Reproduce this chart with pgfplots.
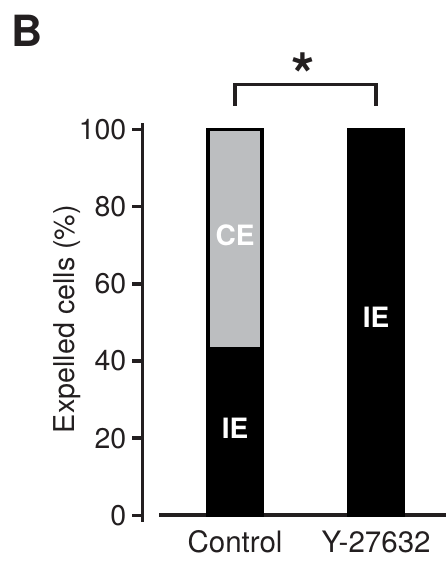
\documentclass[border=0pt]{standalone}
\usepackage{fontspec}
\setmainfont{TeX Gyre Heros}
\usepackage{pgfplots}
\pgfplotsset{compat=1.18}
\definecolor{txt}{HTML}{231F20}
\definecolor{ceg}{HTML}{BCBEC0}
\begin{document}
\begin{tikzpicture}[x=1pt,y=1pt]
\useasboundingbox (0,0) rectangle (446,567);
\begin{axis}[
  at={(142.5pt,45.3pt)}, anchor=south west,
  scale only axis, width=303.5pt, height=398.4pt,
  xmin=-0.656, xmax=1.496, ymin=-1.66, ymax=101.6,
  axis y line*=left, axis x line*=bottom,
  x axis line style={draw=none},
  y axis line style={line width=3.6pt, color=txt, -},
  ytick={0,20,...,100},
  xtick={0,1}, xticklabels={Control,Y-27632},
  xtick style={draw=none},
  ytick style={line width=3.5pt, color=txt},
  tick align=outside, major tick length=10pt,
  ticklabel style={font=\fontsize{28.5}{30}\selectfont, text=txt},
  /pgf/number format/assume math mode=true,
  yticklabel style={anchor=east, inner sep=0pt, xshift=-6pt},
  xticklabel style={anchor=base, inner sep=0pt, yshift=-20.5pt, font=\fontsize{29.5}{31}\selectfont},
  ybar stacked, bar width=54.4pt,
  clip=false,
]
\addplot[fill=black, draw=black, line width=3.6pt] coordinates {(0,43.2) (1,100)};
\addplot[fill=ceg, draw=black, line width=3.6pt] coordinates {(0,56.8) (1,0)};
\draw[txt, line width=3.8pt] (axis cs:-0.539,0) -- (axis cs:1.496,0);
\draw[txt, line width=3.8pt, line join=miter] (axis cs:0,106.1) |- (axis cs:1,111.66) -- (axis cs:1,106.1);
\coordinate (ce) at (axis cs:0,72.7);
\coordinate (ie1) at (axis cs:0,22.6);
\coordinate (ie2) at (axis cs:1,51.2);
\end{axis}
\node[font=\bfseries\fontsize{28}{30}\selectfont, text=white] at (ce) {CE};
\node[font=\bfseries\fontsize{28}{30}\selectfont, text=white] at (ie1) {IE};
\node[font=\bfseries\fontsize{28}{30}\selectfont, text=white] at (ie2) {IE};
\node[rotate=90, anchor=base, inner sep=0pt, font=\fontsize{28.7}{30}\selectfont, text=txt] at (74,248) {Expelled cells (\%)};
\node[font=\bfseries\fontsize{60}{60}\selectfont, text=txt] at (303,492) {*};
\node[anchor=base west, inner sep=0pt, font=\bfseries\fontsize{43}{43}\selectfont, text=txt] at (11,520.3) {B};
\end{tikzpicture}
\end{document}
